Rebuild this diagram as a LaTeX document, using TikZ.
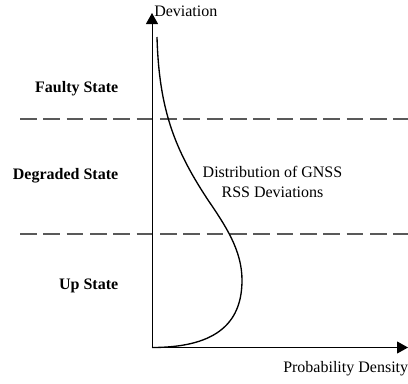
\documentclass[tikz,border=0pt]{standalone}
\usepackage{fontspec}
\setmainfont{Liberation Serif}
\usepackage{tikz}
\usetikzlibrary{arrows.meta,positioning,calc}

\begin{document}
\begin{tikzpicture}[x=0.75pt,y=-0.75pt,>={Triangle[length=8.25pt,width=9pt]},
  statelabel/.style={anchor=base east,inner sep=0pt,font=\fontsize{12}{14.4}\selectfont\bfseries},
  axislabel/.style={inner sep=0pt,font=\fontsize{12}{14.4}\selectfont},
  boundary/.style={black!65,line width=1pt,dash pattern=on 12.5pt off 5pt}]
  \useasboundingbox (0,0) rectangle (408,383);
  \coordinate (origin) at (152,347.5);
  \coordinate (ytip) at (152,13);
  \coordinate (xtip) at (408,347.5);
  \coordinate (upperL) at (20,119);
  \coordinate (upperR) at (408,119);
  \coordinate (lowerL) at (20,234);
  \coordinate (lowerR) at (408,234);
  \draw[boundary] (upperL) -- (upperR);
  \draw[boundary] (lowerL) -- (lowerR);
  \draw[->,line width=0.75pt] (origin) -- (ytip);
  \draw[->,line width=0.75pt] (origin) -- (xtip);
  \draw[line width=1pt] (157,37) .. controls (159,110) and (175,150) .. (208,200)
    .. controls (225,225) and (242,250) .. (242,280)
    .. controls (242,320) and (220,347.5) .. (origin);
  \node[axislabel,anchor=west] (dev) at (154,11) {Deviation};
  \node[axislabel,anchor=base west] (pdens) at (283,372.5) {Probability Density};
  \node[statelabel] (faulty) at (118.5,92) {Faulty State};
  \node[statelabel] (degraded) at (118.5,179) {Degraded State};
  \node[statelabel] (up) at (118.5,289.3) {Up State};
  \node[axislabel,align=center] (distr) at (272.5,182) {Distribution of GNSS\\RSS Deviations};
\end{tikzpicture}
\end{document}
